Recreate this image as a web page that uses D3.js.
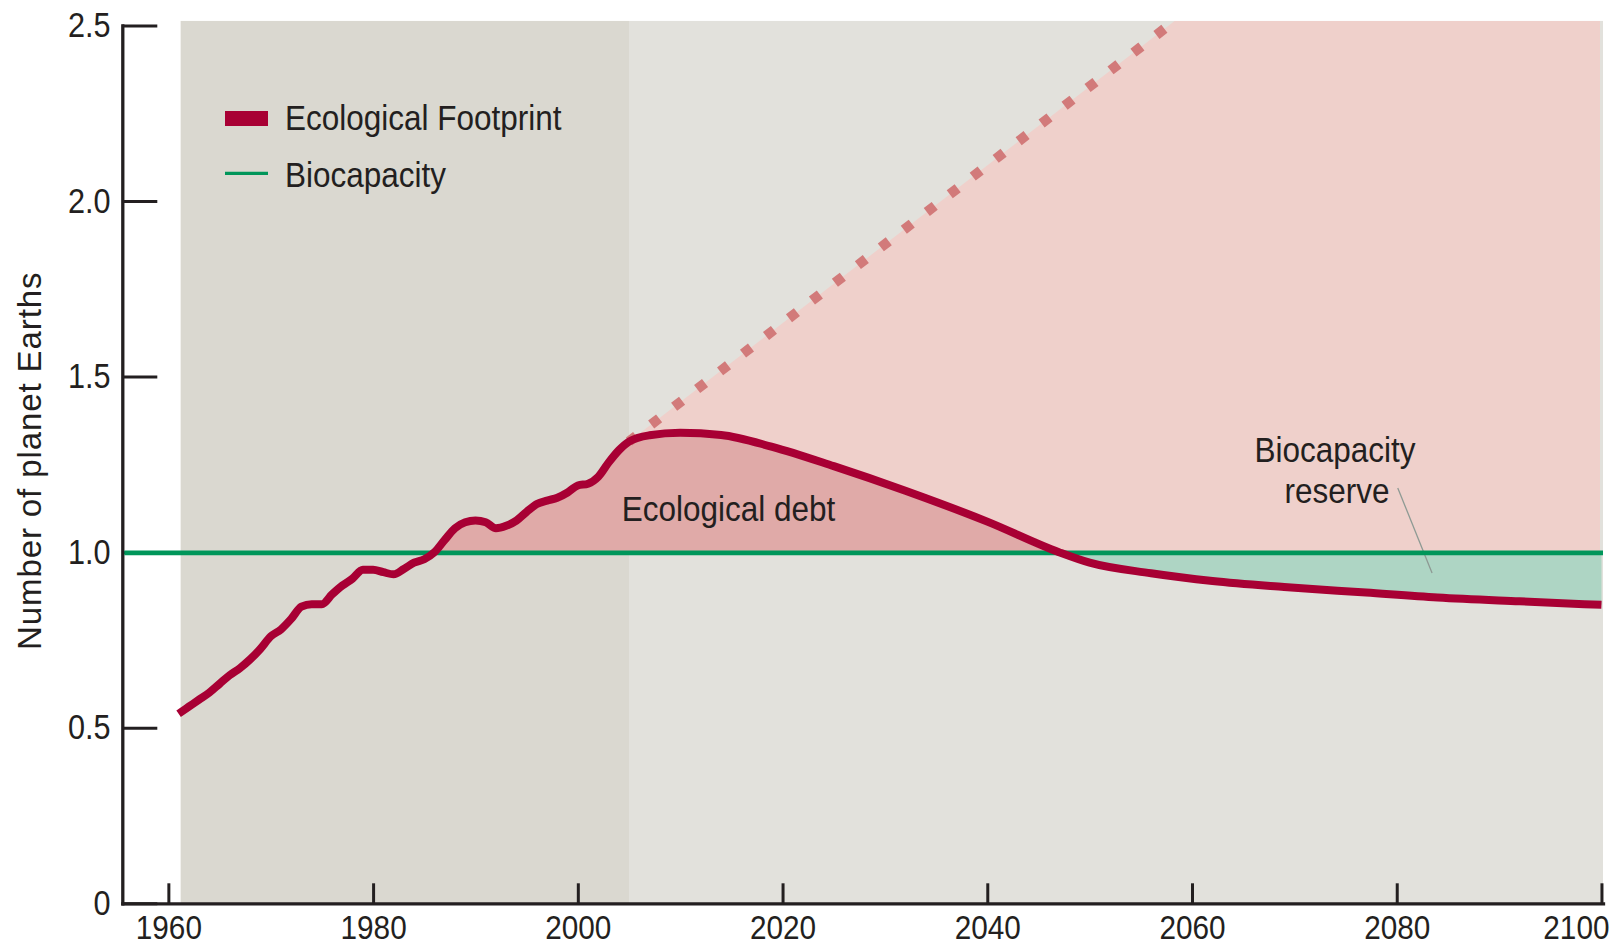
<!DOCTYPE html>
<html><head><meta charset="utf-8">
<script src="https://cdn.jsdelivr.net/npm/d3@7"></script>
<style>
html,body{margin:0;padding:0;background:#fff;}
svg{display:block;}
text{font-family:"Liberation Sans",Arial,Helvetica,sans-serif;fill:#231F20;}
</style></head><body>
<svg id="chart" width="1618" height="948"></svg>
<script>
// ---- data ----
const histYears = [1961,1962,1963,1964,1965,1966,1967,1968,1969,1970,1971,1972,1973,1974,1975,1976,1977,1978,1979,1980,1981,1982,1983,1984,1985,1986,1987,1988,1989,1990,1991,1992,1993,1994,1995,1996,1997,1998,1999,2000,2001,2002,2003,2004,2005];
const histValues = [0.54,0.56,0.58,0.60,0.625,0.65,0.67,0.695,0.725,0.76,0.78,0.81,0.845,0.852,0.852,0.88,0.905,0.925,0.95,0.95,0.943,0.937,0.952,0.97,0.98,1.0,1.035,1.068,1.085,1.09,1.085,1.068,1.075,1.09,1.115,1.137,1.147,1.155,1.17,1.19,1.195,1.215,1.255,1.29,1.315];
const projYears = [2007,2010,2014,2019,2025,2032,2040,2047,2050,2056,2062,2069,2077,2084,2092,2100];
const projValues = [1.333,1.34,1.334,1.30,1.245,1.175,1.087,1.0,0.97,0.94,0.918,0.901,0.885,0.871,0.86,0.85];
const bauYears = [2005, 2058.3];          // business-as-usual (dotted)
const bauValues = [1.315, 2.513];
const bioYears = [1955.7, 2100.15];
const bioValues = [1, 1];
const xTickValues = [1960,1980,2000,2020,2040,2060,2080,2100];
const xTickLabels = ["1960","1980","2000","2020","2040","2060","2080","2100"];
const yTickValues = [0,0.5,1,1.5,2,2.5];
const yTickLabels = ["0","0.5","1.0","1.5","2.0","2.5"];
const periodBreaks = [1961.2, 2005, 2100.15];
const plotTopValue = 2.513;
const legendLabels = ["Ecological Footprint","Biocapacity"];
const debtLabel = "Ecological debt";
const reserveLabel = ["Biocapacity","reserve"];
const yTitle = "Number of planet Earths";

// ---- setup ----
const svg = d3.select("#chart");
const x = d3.scaleLinear().domain([1955.5, 2100.15]).range([122.3, 1603]);
const y = d3.scaleLinear().domain([0, 2.5]).range([903.3, 25.5]);
const C = {dark:"#DAD8D0", light:"#E2E1DC", pink:"#EFD0CB", debt:"#E0AAA8", green:"#AED5C4",
           red:"#A80034", gline:"#00965A", dots:"#D27A7A", ink:"#231F20"};
const SX = 0.875;

const fp = histYears.map((d,i)=>({year:d, v:histValues[i]}))
  .concat(projYears.map((d,i)=>({year:d, v:projValues[i]})));
const bau = bauYears.map((d,i)=>({year:d, v:bauValues[i]}));
const bio = bioYears.map((d,i)=>({year:d, v:bioValues[i]}));

// backgrounds
svg.append("rect").attr("x", x(periodBreaks[0])).attr("y", y(plotTopValue))
  .attr("width", x(periodBreaks[1]) - x(periodBreaks[0])).attr("height", y(0) - y(plotTopValue))
  .attr("fill", C.dark);
svg.append("rect").attr("x", x(periodBreaks[1])).attr("y", y(plotTopValue))
  .attr("width", x(periodBreaks[2]) - x(periodBreaks[1])).attr("height", y(0) - y(plotTopValue))
  .attr("fill", C.light);

// clip: right/below of the BAU line
const clipPts = [
  [x(bau[0].year), y(bau[0].v)],
  [x(bau[1].year), y(bau[1].v)],
  [x(periodBreaks[2]) - 3, y(plotTopValue)],
  [x(periodBreaks[2]) - 3, y(0)],
  [x(bau[0].year), y(0)]
];
svg.append("clipPath").attr("id","bauClip").append("polygon")
  .attr("points", clipPts.map(p=>p.join(",")).join(" "));

const curve = d3.curveMonotoneX;
const proj = fp.filter(d=>d.year >= 2005);
svg.append("path").datum(proj)
  .attr("clip-path","url(#bauClip)")
  .attr("fill", C.pink)
  .attr("d", d3.area().curve(curve).x(d=>x(d.year)).y0(d=>y(Math.max(d.v,1))).y1(y(plotTopValue)));

// ecological debt
svg.append("path").datum(fp)
  .attr("fill", C.debt)
  .attr("d", d3.area().curve(curve).x(d=>x(d.year)).y0(y(1)).y1(d=>y(Math.max(d.v,1))));

// biocapacity reserve
svg.append("path").datum(fp.filter(d=>d.year >= 2047))
  .attr("fill", C.green)
  .attr("d", d3.area().curve(curve).x(d=>x(d.year)).y0(y(1)).y1(d=>y(Math.min(d.v,1))));

// BAU dotted
svg.append("path").datum(bau)
  .attr("fill","none").attr("stroke", C.dots).attr("stroke-width", 10)
  .attr("stroke-dasharray","10 19").attr("stroke-dashoffset", 1)
  .attr("d", d3.line().x(d=>x(d.year)).y(d=>y(d.v)));

// helper for condensed text
function ctext(xp, yp, str, size, anchor){
  return svg.append("text")
    .attr("transform", `translate(${xp},${yp}) scale(${SX},1)`)
    .attr("font-size", size).attr("text-anchor", anchor || "start").text(str);
}

// legend
svg.append("rect").attr("x",225).attr("y",111).attr("width",43).attr("height",15).attr("fill",C.red);
svg.append("line").attr("x1",225).attr("x2",268).attr("y1",173.3).attr("y2",173.3)
  .attr("stroke",C.gline).attr("stroke-width",3.3);
ctext(285, 130, legendLabels[0], 36);
ctext(285, 186.7, legendLabels[1], 36);

// annotations
ctext(621.7, 520.7, debtLabel, 36);
ctext(1335, 461.7, reserveLabel[0], 36, "middle");
ctext(1337, 503.3, reserveLabel[1], 36, "middle");
svg.append("line")
  .attr("x1", x(2080.1)).attr("y1", y(1.183))
  .attr("x2", x(2083.45)).attr("y2", y(0.941))
  .attr("stroke","#8E9A94").attr("stroke-width",1.3);

// axes
const gx = svg.append("g").attr("transform", `translate(0,${y(0)})`)
  .call(d3.axisBottom(x).tickValues(xTickValues).tickFormat((d,i)=>xTickLabels[i])
        .tickSize(-20).tickSizeOuter(0).tickPadding(12));
const gy = svg.append("g").attr("transform", `translate(${x(1955.5)},0)`)
  .call(d3.axisLeft(y).tickValues(yTickValues).tickFormat((d,i)=>yTickLabels[i])
        .tickSize(-35).tickSizeOuter(0).tickPadding(12));
[gx, gy].forEach(g=>{
  g.select(".domain").attr("stroke",C.ink).attr("stroke-width",3.3).attr("stroke-linecap","square");
  g.selectAll(".tick line").attr("stroke",C.ink).attr("stroke-width",3);
  g.selectAll(".tick text").attr("fill",C.ink).attr("font-size",34)
    .attr("font-family",'"Liberation Sans",Arial,Helvetica,sans-serif')
    .attr("transform",`scale(${SX},1)`);
});
gy.selectAll(".tick text").attr("x", -13.5).attr("font-size",35);
gx.selectAll(".tick text").filter((d,i,n)=>i === n.length-1)
  .attr("text-anchor","end").attr("x", 8.6);

// biocapacity line (drawn over the axis tick, as in the original)
svg.append("path").datum(bio)
  .attr("fill","none").attr("stroke", C.gline).attr("stroke-width", 4.6)
  .attr("d", d3.line().x(d=>x(d.year)).y(d=>y(d.v) + 0.7));

// footprint line
svg.append("path").datum(fp)
  .attr("fill","none").attr("stroke", C.red).attr("stroke-width", 8)
  .attr("stroke-linejoin","round")
  .attr("d", d3.line().curve(curve).x(d=>x(d.year)).y(d=>y(d.v)));

// y title
svg.append("text")
  .attr("transform","translate(40.7,460.8) rotate(-90)")
  .attr("text-anchor","middle").attr("font-size",33).attr("letter-spacing",0.9)
  .text(yTitle);
</script>
</body></html>
